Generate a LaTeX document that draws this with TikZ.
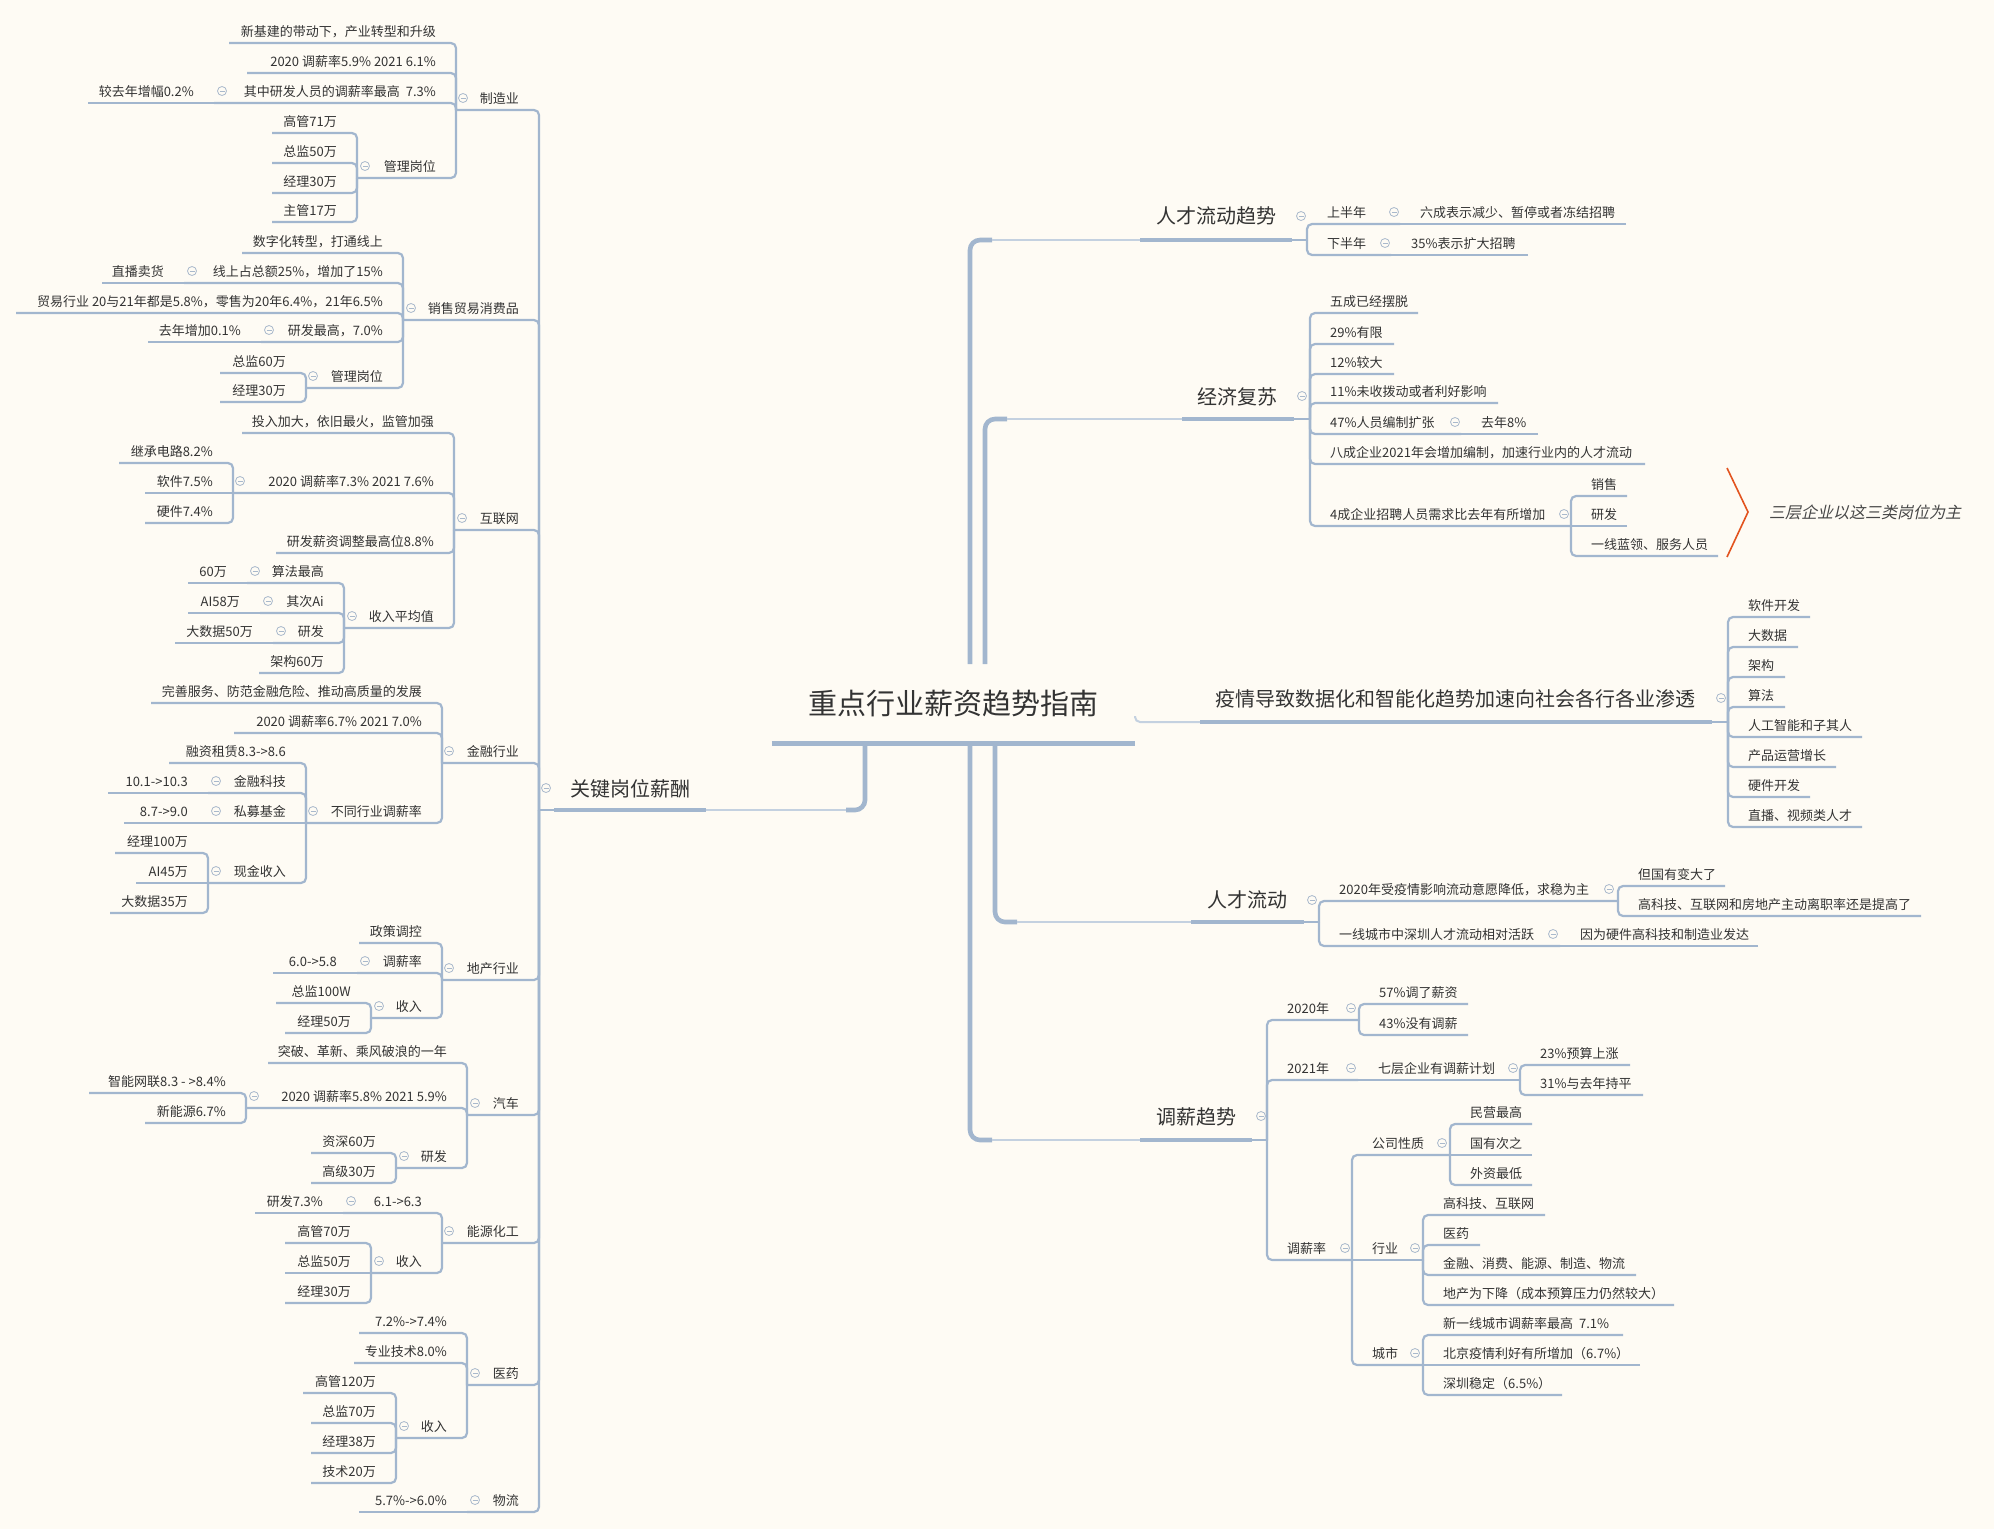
\documentclass[tikz,border=0pt]{standalone}
\usepackage{fontspec}
\setmainfont{Noto Sans CJK SC}
\newfontfamily\slfont[FakeSlant=0.22]{Noto Sans CJK SC}
\usetikzlibrary{calc}

\definecolor{bgc}{HTML}{FEFBF4}
\definecolor{lnc}{HTML}{A2B6CE}
\definecolor{twc}{HTML}{C4D1E0}
\definecolor{txc}{HTML}{333333}
\definecolor{icc}{HTML}{A9B9CC}
\definecolor{redc}{HTML}{E2531E}

\tikzset{
  tx/.style={font=\fontsize{13}{15}\selectfont, text=txc, inner sep=0pt},
  big/.style={font=\fontsize{20}{24}\selectfont, text=txc, inner sep=0pt},
  rootst/.style={font=\fontsize{29}{34}\selectfont, text=txc, inner sep=0pt,
    minimum width=363pt, minimum height=79pt},
  ln/.style={draw=lnc, line width=2.2pt, rounded corners=5pt},
  thk/.style={draw=lnc, line width=4.2pt},
  trunk/.style={draw=lnc, line width=4.6pt, rounded corners=10pt},
  twig/.style={draw=twc, line width=2pt},
  icn/.style={draw=icc, line width=0.8pt},
}

% left-hand topic: name, left end, right end (bracket), underline y, text
\newcommand\LT[5]{\coordinate (#1L) at (#2,#4);\coordinate (#1R) at (#3,#4);
  \node[tx,anchor=base east] (#1) at ({#3-20},{#4-7}) {#5};}
% right-hand topic: name, left end (bracket), right end, underline y, text
\newcommand\RT[5]{\coordinate (#1L) at (#2,#4);\coordinate (#1R) at (#3,#4);
  \node[tx,anchor=base west] (#1) at ({#2+20},{#4-7}) {#5};}
% collapse marker
\newcommand\ic[2]{\draw[icn,fill=bgc] (#1,{#2-12}) circle[radius=4.5];
  \draw[icn] ({#1-2.5},{#2-12}) -- ({#1+2.5},{#2-12});}
% connectors: child #1 to parent #2
\newcommand\jl[2]{\draw[ln] (#1L) -- (#2L |- #1L) -- (#2L);}
\newcommand\jr[2]{\draw[ln] (#1R) -- (#2R |- #1R) -- (#2R);}
\newcommand\il[2]{\draw[ln] (#1L) -- (#2L);}
\newcommand\ir[2]{\draw[ln] (#1R) -- (#2R);}

\begin{document}
\begin{tikzpicture}[x=1pt,y=-1pt]
\useasboundingbox (0,0) rectangle (1994,1529);
\fill[bgc] (0,0) rectangle (1994,1529);

% ---------------- central topic ----------------
\node[rootst, anchor=south] (root) at (953.5,743) {重点行业薪资趋势指南};

% ---------------- main branches ----------------
\node[big, anchor=base west] (key) at (570,796) {关键岗位薪酬};
\coordinate (keyL) at (539,810);
\coordinate (keyA) at (554,810);
\coordinate (keyB) at (706,810);

\node[big, anchor=base west] (flow) at (1156,223) {人才流动趋势};
\coordinate (flowA) at (1140,240); \coordinate (flowB) at (1292,240); \coordinate (flowR) at (1307,240);
\node[big, anchor=base west] (econ) at (1197,404) {经济复苏};
\coordinate (econA) at (1182,419); \coordinate (econB) at (1294,419); \coordinate (econR) at (1310,419);
\node[big, anchor=base west] (ai) at (1215,706) {疫情导致数据化和智能化趋势加速向社会各行各业渗透};
\coordinate (aiA) at (1200,722); \coordinate (aiB) at (1712,722); \coordinate (aiR) at (1728,722);
\node[big, anchor=base west] (move) at (1207,907) {人才流动};
\coordinate (moveA) at (1191,922); \coordinate (moveB) at (1304,922); \coordinate (moveR) at (1319,922);
\node[big, anchor=base west] (pay) at (1156,1124) {调薪趋势};
\coordinate (payA) at (1140,1140); \coordinate (payB) at (1252,1140); \coordinate (payR) at (1267,1140);

% trunks leaving the central topic
\coordinate (tk1) at (865,746); \coordinate (tk1e) at (846,810);
\draw[trunk] (tk1) |- (tk1e); \draw[twig] (tk1e) -- (keyB);
\coordinate (tu1) at (970,664); \coordinate (tu1e) at (992,240);
\draw[trunk] (tu1) |- (tu1e); \draw[twig] (tu1e) -- (flowA);
\coordinate (tu2) at (985,664); \coordinate (tu2e) at (1007,419);
\draw[trunk] (tu2) |- (tu2e); \draw[twig] (tu2e) -- (econA);
\coordinate (th) at (1135,716); \coordinate (the) at (1150,722);
\draw[twig, rounded corners=5pt] (th) |- (the) -- (aiA);
\coordinate (td1) at (995,746); \coordinate (td1e) at (1017,922);
\draw[trunk] (td1) |- (td1e); \draw[twig] (td1e) -- (moveA);
\coordinate (td2) at (970,746); \coordinate (td2e) at (992,1140);
\draw[trunk] (td2) |- (td2e); \draw[twig] (td2e) -- (payA);

\draw[line width=5pt, draw=lnc] (root.south west) -- (root.south east);

\draw[thk] (keyA) -- (keyB); \draw[ln] (keyL) -- (keyA);
\draw[thk] (flowA) -- (flowB); \draw[ln] (flowB) -- (flowR);
\draw[thk] (econA) -- (econB); \draw[ln] (econB) -- (econR);
\draw[thk] (aiA) -- (aiB); \draw[ln] (aiB) -- (aiR);
\draw[thk] (moveA) -- (moveB); \draw[ln] (moveB) -- (moveR);
\draw[thk] (payA) -- (payB); \draw[ln] (payB) -- (payR);

% ---------------- left: key positions ----------------
\LT{mfg}{456}{539}{110}{制造业}
\LT{mA}{229}{456}{43}{新基建的带动下，产业转型和升级}
\LT{mB}{247}{456}{73}{2020 调薪率5.9\% 2021 6.1\%}
\LT{mC}{214}{456}{103}{其中研发人员的调薪率最高~~7.3\%}
\LT{mC1}{88}{214}{103}{较去年增幅0.2\%}
\LT{mD}{357}{456}{178}{管理岗位}
\LT{mD1}{272}{357}{133}{高管71万}
\LT{mD2}{272}{357}{163}{总监50万}
\LT{mD3}{272}{357}{193}{经理30万}
\LT{mD4}{272}{357}{222}{主管17万}
\jl{mfg}{key} \jl{mA}{mfg} \jl{mB}{mfg} \jl{mC}{mfg} \il{mC1}{mC} \jl{mD}{mfg}
\jl{mD1}{mD} \jl{mD2}{mD} \jl{mD3}{mD} \jl{mD4}{mD}

\LT{sal}{403}{539}{320}{销售贸易消费品}
\LT{sA}{242}{403}{253}{数字化转型，打通线上}
\LT{sB}{184}{403}{283}{线上占总额25\%，增加了15\%}
\LT{sB1}{102}{184}{283}{直播卖货}
\LT{sC}{16}{403}{313}{贸易行业 20与21年都是5.8\%，零售为20年6.4\%，21年6.5\%}
\LT{sD}{261}{403}{342}{研发最高，7.0\%}
\LT{sD1}{148}{261}{342}{去年增加0.1\%}
\LT{sE}{306}{403}{388}{管理岗位}
\LT{sE1}{220}{306}{373}{总监60万}
\LT{sE2}{220}{306}{402}{经理30万}
\jl{sal}{key} \jl{sA}{sal} \jl{sB}{sal} \il{sB1}{sB} \jl{sC}{sal} \jl{sD}{sal} \il{sD1}{sD}
\jl{sE}{sal} \jl{sE1}{sE} \jl{sE2}{sE}

\LT{net}{454}{539}{530}{互联网}
\LT{nA}{242}{454}{433}{投入加大，依旧最火，监管加强}
\LT{nB}{233}{454}{493}{2020 调薪率7.3\% 2021 7.6\%}
\LT{nB1}{119}{233}{463}{继承电路8.2\%}
\LT{nB2}{145}{233}{493}{软件7.5\%}
\LT{nB3}{145}{233}{523}{硬件7.4\%}
\LT{nC}{276}{454}{553}{研发薪资调整最高位8.8\%}
\LT{nD}{344}{454}{628}{收入平均值}
\LT{nD1}{247}{344}{583}{算法最高}
\LT{nD1a}{188}{247}{583}{60万}
\LT{nD2}{260}{344}{613}{其次Ai}
\LT{nD2a}{188}{260}{613}{AI58万}
\LT{nD3}{273}{344}{643}{研发}
\LT{nD3a}{175}{273}{643}{大数据50万}
\LT{nD4}{259}{344}{673}{架构60万}
\jl{net}{key} \jl{nA}{net} \jl{nB}{net} \jl{nB1}{nB} \il{nB2}{nB} \jl{nB3}{nB}
\jl{nC}{net} \jl{nD}{net} \jl{nD1}{nD} \il{nD1a}{nD1} \jl{nD2}{nD} \il{nD2a}{nD2}
\jl{nD3}{nD} \il{nD3a}{nD3} \jl{nD4}{nD}

\LT{fin}{442}{539}{763}{金融行业}
\LT{fA}{151}{442}{703}{完善服务、防范金融危险、推动高质量的发展}
\LT{fB}{234}{442}{733}{2020 调薪率6.7\% 2021 7.0\%}
\LT{fC}{306}{442}{823}{不同行业调薪率}
\LT{fC1}{169}{306}{763}{融资租赁8.3->8.6}
\LT{fC2}{208}{306}{793}{金融科技}
\LT{fC2a}{108}{208}{793}{10.1->10.3}
\LT{fC3}{208}{306}{823}{私募基金}
\LT{fC3a}{124}{208}{823}{8.7->9.0}
\LT{fC4}{208}{306}{883}{现金收入}
\LT{fC4a}{115}{208}{853}{经理100万}
\LT{fC4b}{136}{208}{883}{AI45万}
\LT{fC4c}{110}{208}{913}{大数据35万}
\jl{fin}{key} \jl{fA}{fin} \jl{fB}{fin} \jl{fC}{fin} \jl{fC1}{fC} \jl{fC2}{fC} \il{fC2a}{fC2}
\il{fC3}{fC} \il{fC3a}{fC3} \jl{fC4}{fC} \jl{fC4a}{fC4} \il{fC4b}{fC4} \jl{fC4c}{fC4}

\LT{re}{442}{539}{980}{地产行业}
\LT{rA}{359}{442}{943}{政策调控}
\LT{rB}{357}{442}{973}{调薪率}
\LT{rB1}{273}{357}{973}{6.0->5.8}
\LT{rC}{371}{442}{1018}{收入}
\LT{rC1}{276}{371}{1003}{总监100W}
\LT{rC2}{285}{371}{1033}{经理50万}
\jl{re}{key} \jl{rA}{re} \jl{rB}{re} \il{rB1}{rB} \jl{rC}{re} \jl{rC1}{rC} \jl{rC2}{rC}

\LT{car}{467}{539}{1115}{汽车}
\LT{aA}{268}{467}{1063}{突破、革新、乘风破浪的一年}
\LT{aB}{246}{467}{1108}{2020 调薪率5.8\% 2021 5.9\%}
\LT{aB1}{89}{246}{1093}{智能网联8.3 - >8.4\%}
\LT{aB2}{145}{246}{1123}{新能源6.7\%}
\LT{aC}{396}{467}{1168}{研发}
\LT{aC1}{311}{396}{1153}{资深60万}
\LT{aC2}{311}{396}{1183}{高级30万}
\jl{car}{key} \jl{aA}{car} \jl{aB}{car} \jl{aB1}{aB} \jl{aB2}{aB} \jl{aC}{car}
\jl{aC1}{aC} \jl{aC2}{aC}

\LT{chem}{442}{539}{1243}{能源化工}
\LT{cA}{343}{442}{1213}{6.1->6.3}
\LT{cA1}{255}{343}{1213}{研发7.3\%}
\LT{cB}{371}{442}{1273}{收入}
\LT{cB1}{285}{371}{1243}{高管70万}
\LT{cB2}{285}{371}{1273}{总监50万}
\LT{cB3}{285}{371}{1303}{经理30万}
\jl{chem}{key} \jl{cA}{chem} \il{cA1}{cA} \jl{cB}{chem} \jl{cB1}{cB} \il{cB2}{cB} \jl{cB3}{cB}

\LT{med}{467}{539}{1385}{医药}
\LT{dA}{359}{467}{1333}{7.2\%->7.4\%}
\LT{dB}{354}{467}{1363}{专业技术8.0\%}
\LT{dC}{396}{467}{1438}{收入}
\LT{dC1}{303}{396}{1393}{高管120万}
\LT{dC2}{311}{396}{1423}{总监70万}
\LT{dC3}{311}{396}{1453}{经理38万}
\LT{dC4}{311}{396}{1483}{技术20万}
\jl{med}{key} \jl{dA}{med} \jl{dB}{med} \jl{dC}{med} \jl{dC1}{dC} \jl{dC2}{dC}
\jl{dC3}{dC} \jl{dC4}{dC}

\LT{logi}{467}{539}{1512}{物流}
\LT{lA}{359}{467}{1512}{5.7\%->6.0\%}
\jl{logi}{key} \il{lA}{logi}

% ---------------- right: talent flow trend ----------------
\RT{fU}{1307}{1400}{224}{上半年}
\RT{fU1}{1400}{1626}{224}{六成表示减少、暂停或者冻结招聘}
\RT{fD}{1307}{1391}{255}{下半年}
\RT{fD1}{1391}{1528}{255}{35\%表示扩大招聘}
\jr{fU}{flow} \ir{fU1}{fU} \jr{fD}{flow} \ir{fD1}{fD}

% economic recovery
\RT{eA}{1310}{1418}{313}{五成已经摆脱}
\RT{eB}{1310}{1394}{344}{29\%有限}
\RT{eC}{1310}{1394}{374}{12\%较大}
\RT{eD}{1310}{1498}{403}{11\%未收拨动或者利好影响}
\RT{eE}{1310}{1461}{434}{47\%人员编制扩张}
\RT{eE1}{1461}{1538}{434}{去年8\%}
\RT{eF}{1310}{1645}{464}{八成企业2021年会增加编制，加速行业内的人才流动}
\RT{eG}{1310}{1571}{526}{4成企业招聘人员需求比去年有所增加}
\RT{eG1}{1571}{1627}{496}{销售}
\RT{eG2}{1571}{1627}{526}{研发}
\RT{eG3}{1571}{1718}{556}{一线蓝领、服务人员}
\jr{eA}{econ} \jr{eB}{econ} \jr{eC}{econ} \jr{eD}{econ} \jr{eE}{econ} \ir{eE1}{eE}
\jr{eF}{econ} \jr{eG}{econ} \jr{eG1}{eG} \ir{eG2}{eG} \jr{eG3}{eG}

\draw[draw=redc, line width=1.6pt] (1727,468) -- (1748,512) -- (1727,557);
\node[font=\slfont\fontsize{16}{19}\selectfont, text=txc!90, anchor=west, inner sep=0pt]
  (note) at (1769,512) {三层企业以这三类岗位为主};

% digitalisation
\RT{iA}{1728}{1810}{617}{软件开发}
\RT{iB}{1728}{1798}{647}{大数据}
\RT{iC}{1728}{1785}{677}{架构}
\RT{iD}{1728}{1785}{707}{算法}
\RT{iE}{1728}{1862}{737}{人工智能和子其人}
\RT{iF}{1728}{1836}{767}{产品运营增长}
\RT{iG}{1728}{1810}{797}{硬件开发}
\RT{iH}{1728}{1862}{827}{直播、视频类人才}
\jr{iA}{ai} \jr{iB}{ai} \jr{iC}{ai} \jr{iD}{ai} \jr{iE}{ai} \jr{iF}{ai} \jr{iG}{ai} \jr{iH}{ai}

% talent movement
\RT{vA}{1319}{1618}{901}{2020年受疫情影响流动意愿降低，求稳为主}
\RT{vA1}{1618}{1725}{886}{但国有变大了}
\RT{vA2}{1618}{1921}{916}{高科技、互联网和房地产主动离职率还是提高了}
\RT{vB}{1319}{1560}{946}{一线城市中深圳人才流动相对活跃}
\RT{vB1}{1560}{1758}{946}{因为硬件高科技和制造业发达}
\jr{vA}{move} \jr{vA1}{vA} \jr{vA2}{vA} \jr{vB}{move} \ir{vB1}{vB}

% salary adjustment
\RT{pA}{1267}{1359}{1020}{2020年}
\RT{pA1}{1359}{1468}{1004}{57\%调了薪资}
\RT{pA2}{1359}{1468}{1035}{43\%没有调薪}
\RT{pB}{1267}{1358}{1080}{2021年}
\RT{pB1}{1358}{1520}{1080}{七层企业有调薪计划}
\RT{pB1a}{1520}{1630}{1065}{23\%预算上涨}
\RT{pB1b}{1520}{1643}{1095}{31\%与去年持平}
\RT{pC}{1267}{1352}{1260}{调薪率}
\RT{pC1}{1352}{1450}{1155}{公司性质}
\RT{pC1a}{1450}{1532}{1124}{民营最高}
\RT{pC1b}{1450}{1532}{1155}{国有次之}
\RT{pC1c}{1450}{1532}{1185}{外资最低}
\RT{pC2}{1352}{1423}{1260}{行业}
\RT{pC2a}{1423}{1545}{1215}{高科技、互联网}
\RT{pC2b}{1423}{1480}{1245}{医药}
\RT{pC2c}{1423}{1636}{1275}{金融、消费、能源、制造、物流}
\RT{pC2d}{1423}{1674}{1305}{地产为下降（成本预算压力仍然较大）}
\RT{pC3}{1352}{1423}{1365}{城市}
\RT{pC3a}{1423}{1623}{1335}{新一线城市调薪率最高~~7.1\%}
\RT{pC3b}{1423}{1640}{1365}{北京疫情利好有所增加（6.7\%）}
\RT{pC3c}{1423}{1562}{1395}{深圳稳定（6.5\%）}
\jr{pA}{pay} \jr{pA1}{pA} \jr{pA2}{pA} \jr{pB}{pay} \ir{pB1}{pB} \jr{pB1a}{pB1} \jr{pB1b}{pB1}
\jr{pC}{pay} \jr{pC1}{pC} \jr{pC1a}{pC1} \ir{pC1b}{pC1} \jr{pC1c}{pC1}
\ir{pC2}{pC} \jr{pC2a}{pC2} \jr{pC2b}{pC2} \jr{pC2c}{pC2} \jr{pC2d}{pC2}
\jr{pC3}{pC} \jr{pC3a}{pC3} \ir{pC3b}{pC3} \jr{pC3c}{pC3}

% ---------------- collapse markers ----------------
\draw[icn,fill=bgc] (546,788) circle[radius=4.5]; \draw[icn] (543.5,788) -- (548.5,788);
\draw[icn,fill=bgc] (1301,216) circle[radius=4.5]; \draw[icn] (1298.5,216) -- (1303.5,216);
\draw[icn,fill=bgc] (1302,396) circle[radius=4.5]; \draw[icn] (1299.5,396) -- (1304.5,396);
\draw[icn,fill=bgc] (1721,698) circle[radius=4.5]; \draw[icn] (1718.5,698) -- (1723.5,698);
\draw[icn,fill=bgc] (1312,900) circle[radius=4.5]; \draw[icn] (1309.5,900) -- (1314.5,900);
\draw[icn,fill=bgc] (1261,1116) circle[radius=4.5]; \draw[icn] (1258.5,1116) -- (1263.5,1116);

\ic{463}{110} \ic{222}{103} \ic{365}{178}
\ic{411}{320} \ic{192}{283} \ic{269}{342} \ic{313}{388}
\ic{462}{530} \ic{240}{493} \ic{352}{628} \ic{255}{583} \ic{268}{613} \ic{281}{643}
\ic{449}{763} \ic{313}{823} \ic{216}{793} \ic{216}{823} \ic{216}{883}
\ic{449}{980} \ic{365}{973} \ic{379}{1018}
\ic{475}{1115} \ic{254}{1108} \ic{404}{1168}
\ic{449}{1243} \ic{351}{1213} \ic{379}{1273}
\ic{475}{1385} \ic{404}{1438}
\ic{475}{1512}
\ic{1394}{224} \ic{1385}{255}
\ic{1455}{434} \ic{1564}{526}
\ic{1609}{901} \ic{1553}{946}
\ic{1351}{1020} \ic{1351}{1080} \ic{1513}{1080} \ic{1345}{1260}
\ic{1442}{1155} \ic{1415}{1260} \ic{1415}{1365}
\end{tikzpicture}
\end{document}
